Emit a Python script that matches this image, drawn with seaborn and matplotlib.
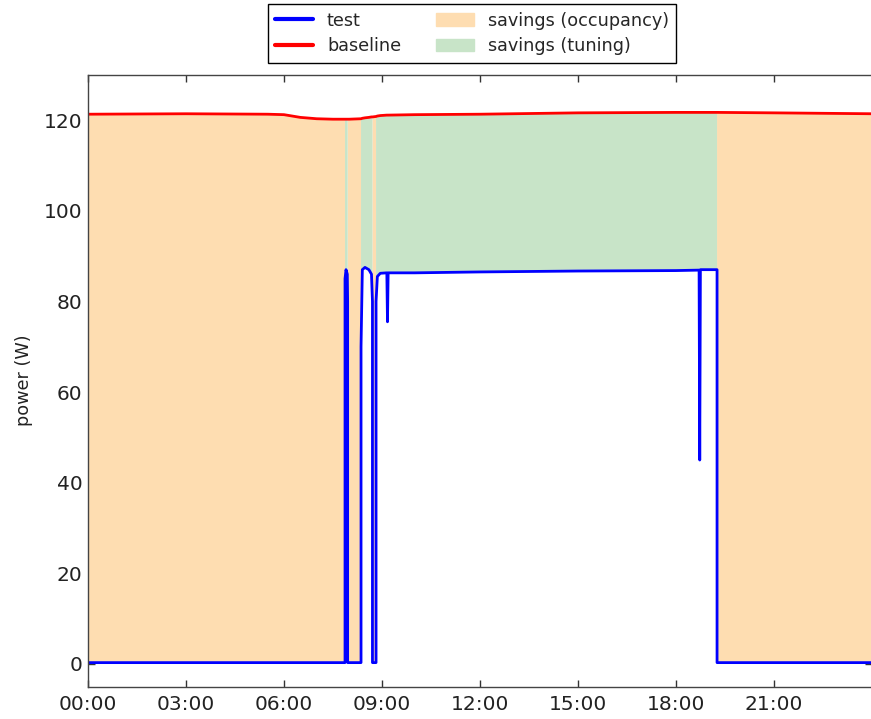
import numpy as np
import matplotlib
matplotlib.use("Agg")
import matplotlib.pyplot as plt
import seaborn as sns
from matplotlib.patches import Patch
from matplotlib.lines import Line2D

# time of day (hours) and power readings (W)
hours = [0.0, 3.0, 5.5, 6.0, 6.5, 7.0, 7.5, 7.87, 7.87, 7.90, 7.94, 7.95, 7.95,
         8.0, 8.36, 8.36, 8.40, 8.48, 8.60, 8.68, 8.71, 8.71, 8.82, 8.82, 8.86,
         8.95, 9.15, 9.17, 9.19, 10.0, 12.0, 15.0, 18.0, 18.71, 18.73, 18.75,
         19.26, 19.26, 21.0, 24.0]
test = [0.3, 0.3, 0.3, 0.3, 0.3, 0.3, 0.3, 0.3, 85.0, 87.0, 86.0, 80.0, 0.3,
        0.3, 0.3, 70.0, 87.0, 87.5, 87.0, 86.0, 80.0, 0.3, 0.3, 80.0, 85.5,
        86.2, 86.3, 75.5, 86.3, 86.3, 86.5, 86.7, 86.8, 86.9, 45.0, 87.0,
        87.0, 0.3, 0.3, 0.3]
baseline = [121.3, 121.4, 121.3, 121.2, 120.6, 120.3, 120.2, 120.2, 120.2,
            120.2, 120.2, 120.2, 120.2, 120.2, 120.3, 120.3, 120.4, 120.5,
            120.6, 120.7, 120.7, 120.7, 120.8, 120.8, 120.9, 121.0, 121.1,
            121.1, 121.1, 121.2, 121.3, 121.6, 121.7, 121.7, 121.7, 121.7,
            121.7, 121.7, 121.6, 121.4]

tick_hours = [0, 3, 6, 9, 12, 15, 18, 21]
tick_labels = ["00:00", "03:00", "06:00", "09:00", "12:00", "15:00", "18:00", "21:00"]

sns.set_style("ticks", {"xtick.direction": "in", "ytick.direction": "in"})
plt.rcParams["font.family"] = ["DejaVu Sans"]

x = np.array(hours)
t = np.array(test)
b = np.array(baseline)
on = t > 20

fig = plt.figure(figsize=(8.71, 7.19), dpi=100)
ax = fig.add_axes([0.101, 0.045, 0.9, 0.851])

occ_col = "#FEDDB1"
tun_col = "#C8E4C8"
ax.fill_between(x, t, b, where=~on, color=occ_col, lw=0)
ax.fill_between(x, t, b, where=on, color=tun_col, lw=0)

sns.lineplot(x=x, y=b, estimator=None, sort=False, color="#FF0000", lw=2, ax=ax)
sns.lineplot(x=x, y=t, estimator=None, sort=False, color="#0000FF", lw=2, ax=ax)

ax.set_xlim(0, 24)
ax.set_ylim(-5, 130)
ax.set_xticks(tick_hours)
ax.set_xticklabels(tick_labels)
ax.set_yticks([0, 20, 40, 60, 80, 100, 120])
ax.tick_params(axis="both", labelsize=14.5, length=5, width=1, top=True, right=True,
               colors="#333333", labelcolor="#222222")
ax.tick_params(axis="y", pad=4)
ax.tick_params(axis="x", pad=6)
for s in ax.spines.values():
    s.set_color("#444444")
    s.set_linewidth(1)
ax.set_ylabel("power (W)", fontsize=12.7, color="#222222", labelpad=8)
ax.set_xlabel("")

handles = [Line2D([], [], color="#0000FF", lw=3), Line2D([], [], color="#FF0000", lw=3),
           Patch(color=occ_col), Patch(color=tun_col)]
labels = ["test", "baseline", "savings (occupancy)", "savings (tuning)"]
leg = ax.legend(handles, labels, loc="lower center", bbox_to_anchor=(0.49, 1.02), ncol=2,
                fontsize=12.7, frameon=True, fancybox=False, framealpha=1,
                edgecolor="black", columnspacing=2.0, handlelength=2.15,
                handletextpad=0.8, borderaxespad=0, labelspacing=0.45)
leg.get_frame().set_linewidth(1)

fig.savefig("out.png", dpi=100)
